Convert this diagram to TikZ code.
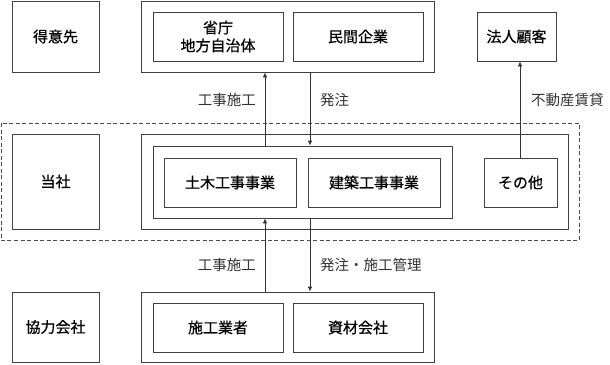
\documentclass[tikz,border=0pt]{standalone}
\usepackage{fontspec}
\newfontfamily\jp{Noto Sans CJK JP}
\newfontfamily\jpb[FakeBold=0.6]{Noto Sans CJK JP}
\usetikzlibrary{arrows.meta}
\begin{document}
\begin{tikzpicture}[x=1pt,y=-1pt,
  box/.style={draw=black!75, line width=0.8pt, rectangle, inner sep=0pt, font=\jpb\fontsize{15}{18}\selectfont, align=center},
  frame/.style={draw=black!75, line width=0.8pt, rectangle, inner sep=0pt},
  lbl/.style={font=\jp\fontsize{14.5}{17}\selectfont, text=black!80, inner sep=0pt},
  arr/.style={draw=black!80, line width=0.8pt, -{Latex[length=5pt,width=4.5pt]}},
  ln/.style={draw=black!80, line width=0.8pt}]
\useasboundingbox (0,0) rectangle (610,364);
% dashed frame
\draw[draw=black!70, line width=0.8pt, dash pattern=on 4pt off 2.5pt] (1,123) rectangle (579,240);
% left column
\node[box, minimum width=87, minimum height=71] (tokui) at (55.5,36.5) {得意先};
\node[box, minimum width=87, minimum height=95] (tosha) at (55.5,181.5) {当社};
\node[box, minimum width=87, minimum height=70] (kyo) at (55.5,327) {協力会社};
% top row
\node[frame, minimum width=293, minimum height=71] (top) at (287.5,36.5) {};
\node[box, minimum width=130, minimum height=49] (sho) at (218,36.5) {省庁\\地方自治体};
\node[box, minimum width=130, minimum height=49] (min) at (358,36.5) {民間企業};
\node[box, minimum width=79, minimum height=49] (hojin) at (516.5,36.5) {法人顧客};
% middle row
\node[frame, minimum width=427, minimum height=95] (mid) at (354.5,181.5) {};
\node[frame, minimum width=299, minimum height=72] (inner) at (302.5,182) {};
\node[box, minimum width=132, minimum height=49] (doboku) at (230,182.5) {土木工事事業};
\node[box, minimum width=132, minimum height=49] (kenchiku) at (374,182.5) {建築工事事業};
\node[box, minimum width=73, minimum height=49] (sonota) at (520.5,182.5) {その他};
% bottom row
\node[frame, minimum width=293, minimum height=70] (bot) at (287.5,327) {};
\node[box, minimum width=130, minimum height=49] (sekou) at (218,327.5) {施工業者};
\node[box, minimum width=130, minimum height=49] (shizai) at (358,327.5) {資材会社};
% connectors
\coordinate (xa) at (265,0);
\coordinate (xb) at (310,0);
\coordinate (xc) at (520,0);
\draw[arr] (inner.north -| xa) -- (top.south -| xa);
\draw[arr] (top.south -| xb) -- (inner.north -| xb);
\draw[arr] (sonota.north -| xc) -- (hojin.south -| xc);
\draw[arr] (bot.north -| xa) -- (inner.south -| xa);
\draw[arr] (inner.south -| xb) -- (bot.north -| xb);
% labels
\node[lbl, anchor=east] (l1) at (256,100) {工事施工};
\node[lbl, anchor=west] (l2) at (320,100) {発注};
\node[lbl, anchor=west] (l3) at (531,100) {不動産賃貸};
\node[lbl, anchor=east] (l4) at (256,265) {工事施工};
\node[lbl, anchor=west] (l5) at (320,265) {発注・施工管理};
\end{tikzpicture}
\end{document}
